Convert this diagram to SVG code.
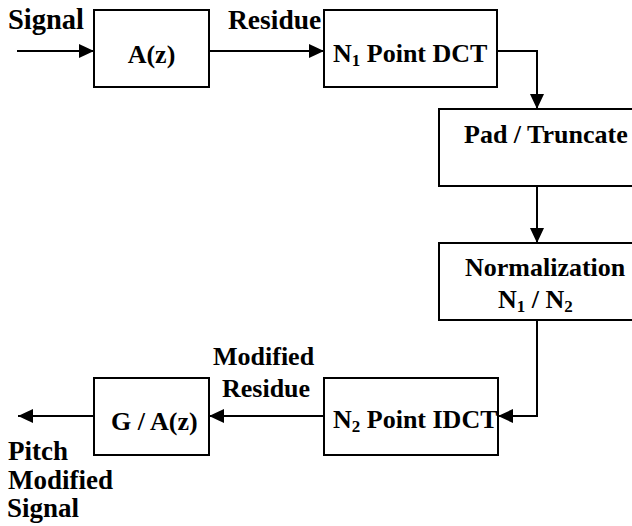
<svg xmlns="http://www.w3.org/2000/svg" width="632" height="526" viewBox="0 0 632 526">
<defs>
<style>
.box{fill:#fff;stroke:#000;stroke-width:2}
.ln{fill:none;stroke:#000;stroke-width:2}
.t{font-family:'Liberation Serif','Times New Roman',serif;font-weight:bold;font-size:26px;fill:#000}
.lb{font-size:27px}
.sub{font-size:17px}
</style>
<marker id="ah" viewBox="0 0 15 14" refX="15" refY="7" markerWidth="15" markerHeight="14" markerUnits="userSpaceOnUse" orient="auto">
<path d="M0,0 L15,7 L0,14 Z" fill="#000"/>
</marker>
</defs>
<rect width="632" height="526" fill="#fff"/>
<g id="connectors">
<line class="ln" x1="17" y1="51" x2="94" y2="51" marker-end="url(#ah)"/>
<line class="ln" x1="209" y1="51" x2="324" y2="51" marker-end="url(#ah)"/>
<polyline class="ln" points="497,51 537,51 537,109" marker-end="url(#ah)"/>
<line class="ln" x1="537" y1="186" x2="537" y2="243" marker-end="url(#ah)"/>
<polyline class="ln" points="537,320 537,416 498,416" marker-end="url(#ah)"/>
<line class="ln" x1="324" y1="416" x2="209" y2="416" marker-end="url(#ah)"/>
<line class="ln" x1="94" y1="416" x2="18" y2="416" marker-end="url(#ah)"/>
</g>
<g id="labels" class="t">
<text class="lb" x="8" y="29" style="font-size:28.5px">Signal</text>
<text class="lb" x="228" y="29" style="font-size:27.5px">Residue</text>
<text x="213" y="365">Modified</text>
<text x="222" y="397">Residue</text>
<text class="lb" x="8" y="460">Pitch</text>
<text class="lb" x="8" y="489">Modified</text>
<text class="lb" x="7" y="517">Signal</text>
</g>
<g id="node-az">
<rect class="box" x="94" y="10" width="115" height="77"/>
<text class="t" x="151.5" y="63" text-anchor="middle">A(z)</text>
</g>
<g id="node-dct">
<rect class="box" x="324" y="10" width="173" height="77"/>
<text class="t" x="333" y="62">N<tspan class="sub" dy="4">1</tspan><tspan dy="-4"> Point DCT</tspan></text>
</g>
<g id="node-pad">
<rect class="box" x="439" y="109" width="200" height="77"/>
<text class="t" x="464" y="143">Pad / Truncate</text>
</g>
<g id="node-norm">
<rect class="box" x="439" y="243" width="200" height="77"/>
<text class="t" x="465" y="276">Normalization</text>
<text class="t" x="498" y="308">N<tspan class="sub" dy="4">1</tspan><tspan dy="-4"> / N</tspan><tspan class="sub" dy="4">2</tspan></text>
</g>
<g id="node-idct">
<rect class="box" x="324" y="378" width="174" height="77"/>
<text class="t" x="333" y="428">N<tspan class="sub" dy="4">2</tspan><tspan dy="-4"> Point IDCT</tspan></text>
</g>
<g id="node-g">
<rect class="box" x="94" y="378" width="115" height="77"/>
<text class="t" x="111" y="430">G / A(z)</text>
</g>
</svg>
